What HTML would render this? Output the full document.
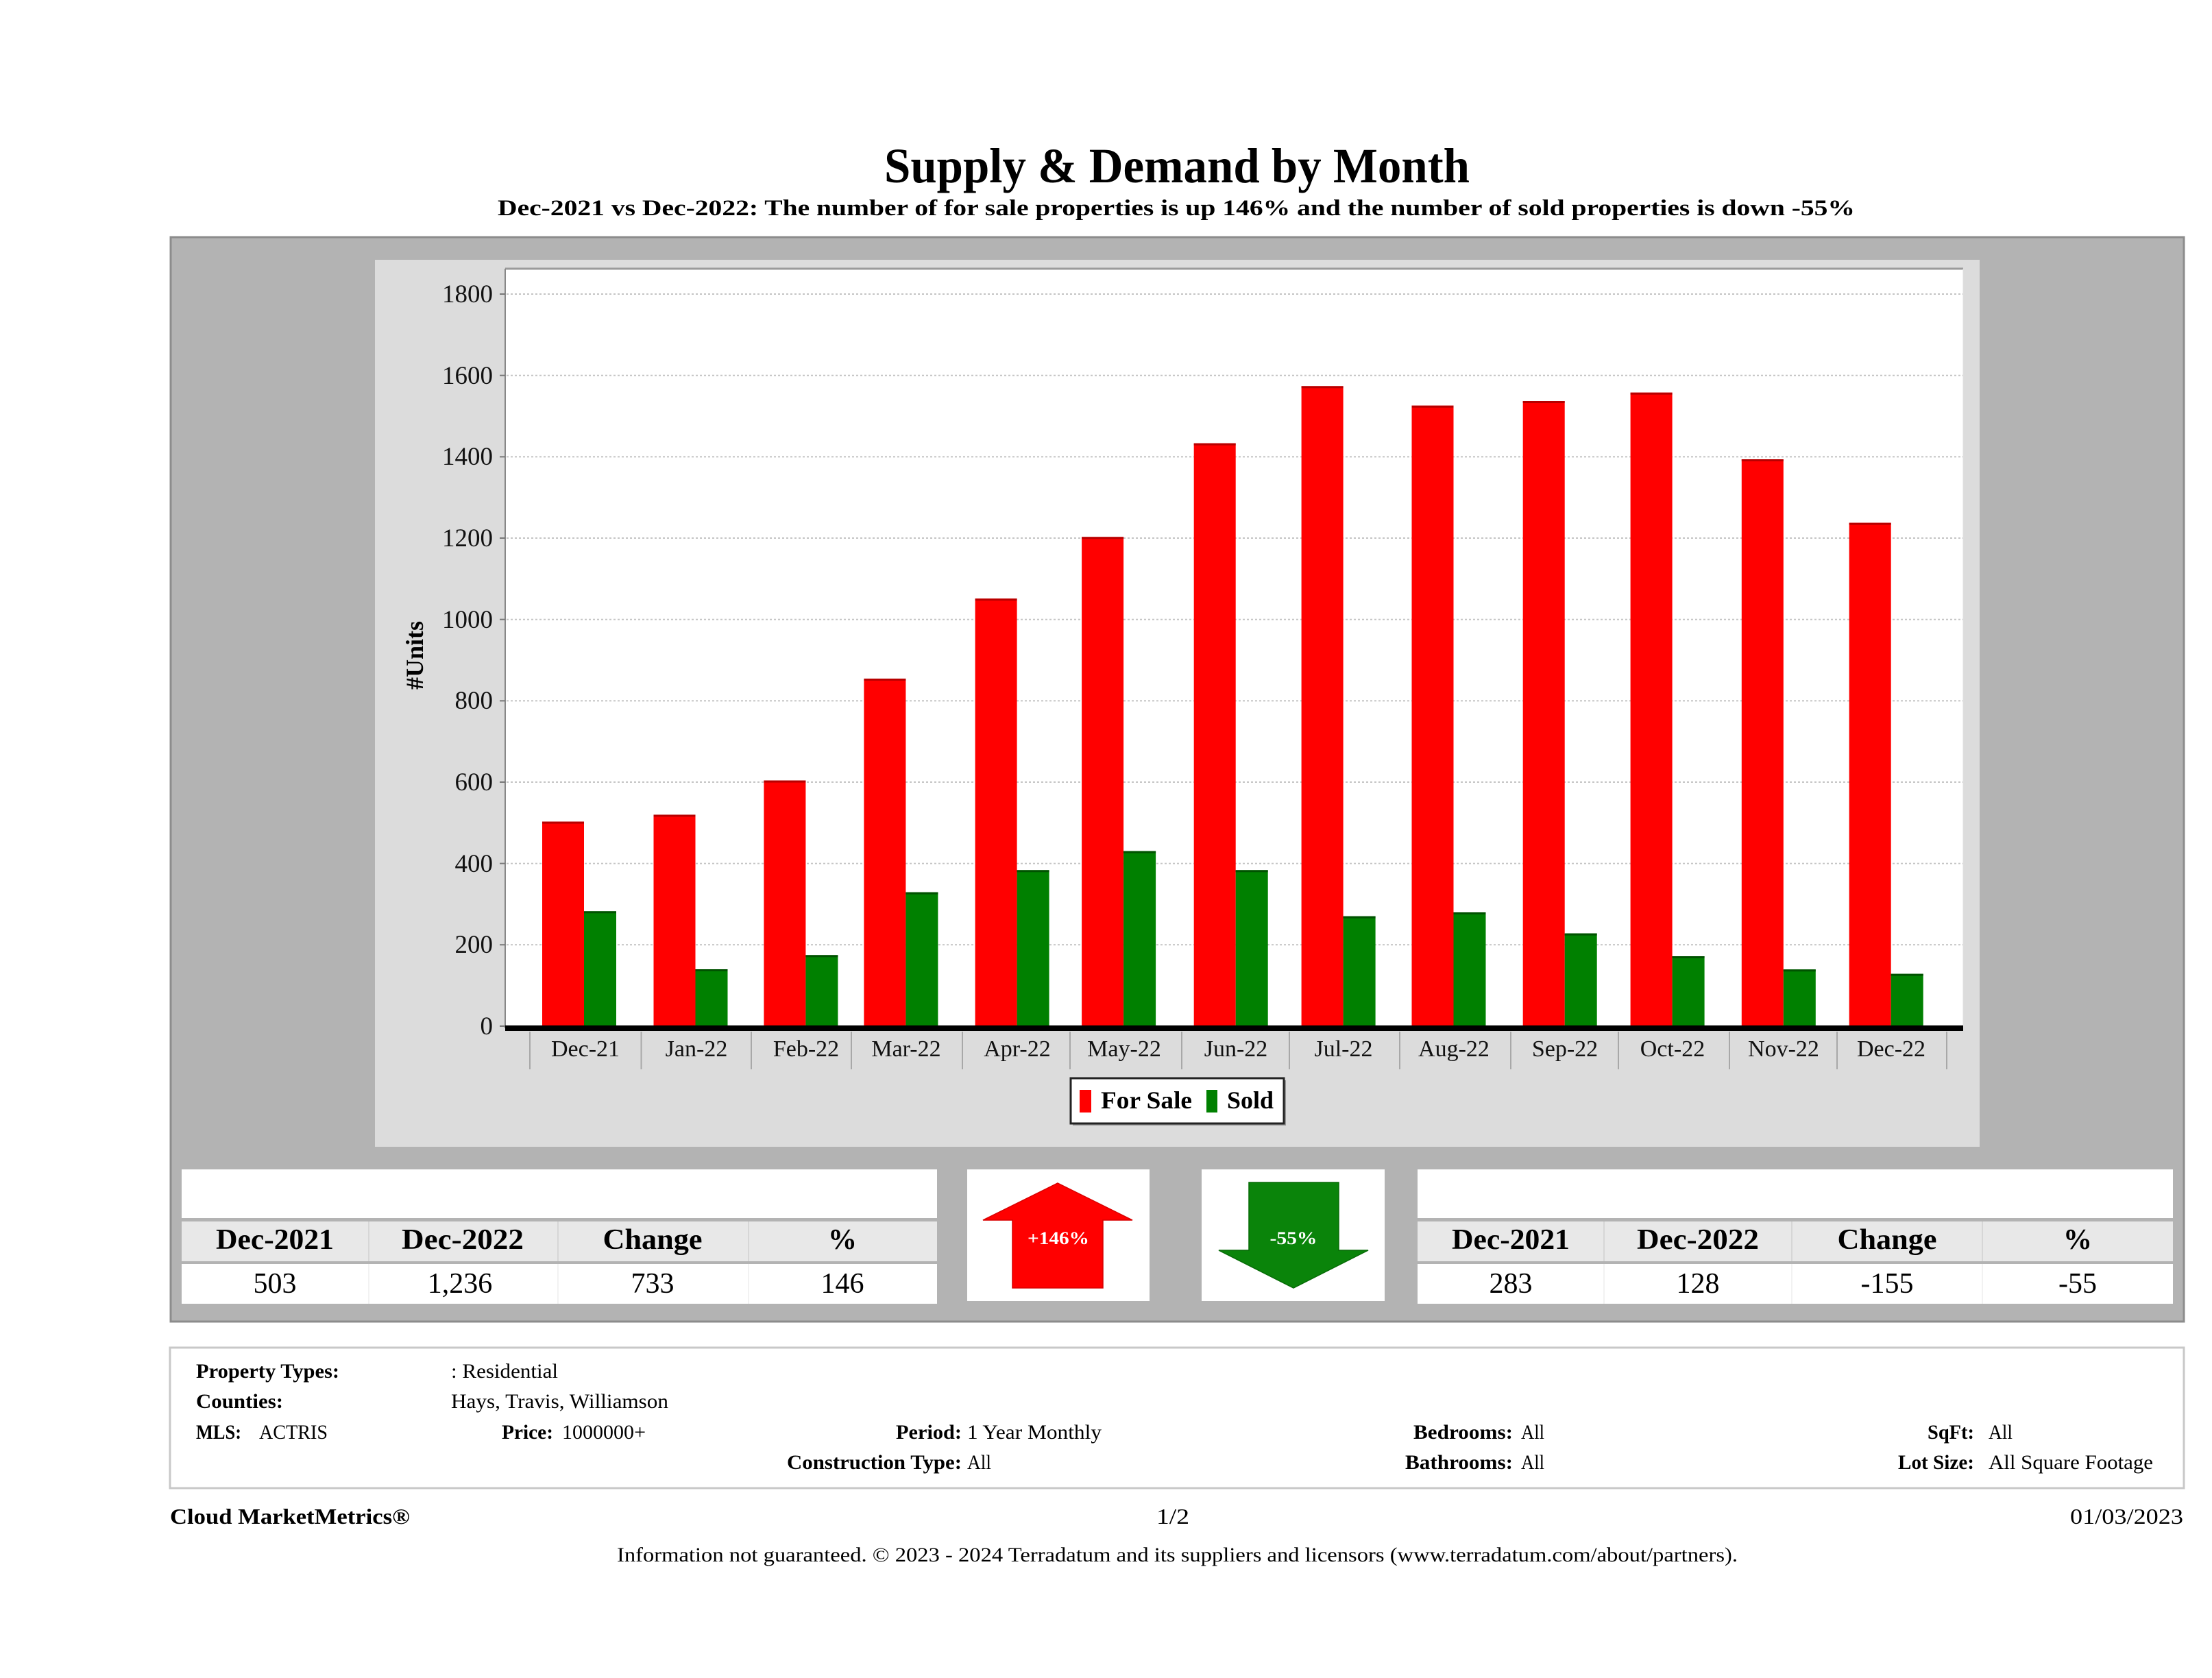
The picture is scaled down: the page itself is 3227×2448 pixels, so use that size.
<!DOCTYPE html>
<html><head><meta charset="utf-8"><style>
html,body{margin:0;padding:0;background:#fff;}
svg{display:block;}
text{font-family:"Liberation Serif",serif;}
</style></head><body>
<svg width="3227" height="2448" viewBox="0 0 3227 2448" xmlns="http://www.w3.org/2000/svg">
<rect x="0" y="0" width="3227" height="2448" fill="#fff"/>
<!-- Title -->
<text x="1290" y="266" font-size="72" font-weight="bold" textLength="854" lengthAdjust="spacingAndGlyphs">Supply &amp; Demand by Month</text>
<text x="726" y="314" font-size="33" font-weight="bold" textLength="1980" lengthAdjust="spacingAndGlyphs">Dec-2021 vs Dec-2022: The number of for sale properties is up 146% and the number of sold properties is down -55%</text>

<!-- Outer panel -->
<rect x="249" y="346" width="2937" height="1582" fill="#b3b3b3" stroke="#8c8c8c" stroke-width="3"/>
<!-- Chart panel -->
<rect x="547" y="379" width="2341" height="1294" fill="#dcdcdc"/>
<!-- Plot area -->
<rect x="737" y="393" width="2127" height="1104" fill="#fff"/>
<line x1="737" y1="392" x2="2864" y2="392" stroke="#9a9a9a" stroke-width="3"/>
<line x1="737" y1="392" x2="737" y2="1500" stroke="#888" stroke-width="2"/>
<line x1="2864" y1="392" x2="2864" y2="1500" stroke="#e0e0e0" stroke-width="1"/>

<!-- Gridlines -->
<g stroke="#c4c4c4" stroke-width="2" stroke-dasharray="3,3">
<line x1="739" y1="1378.3" x2="2864" y2="1378.3"/>
<line x1="739" y1="1259.7" x2="2864" y2="1259.7"/>
<line x1="739" y1="1141" x2="2864" y2="1141"/>
<line x1="739" y1="1022.4" x2="2864" y2="1022.4"/>
<line x1="739" y1="903.7" x2="2864" y2="903.7"/>
<line x1="739" y1="785" x2="2864" y2="785"/>
<line x1="739" y1="666.4" x2="2864" y2="666.4"/>
<line x1="739" y1="547.7" x2="2864" y2="547.7"/>
<line x1="739" y1="429" x2="2864" y2="429"/>
</g>
<!-- Y ticks -->
<g stroke="#777" stroke-width="2">
<line x1="729" y1="1497" x2="737" y2="1497"/>
<line x1="729" y1="1378.3" x2="737" y2="1378.3"/>
<line x1="729" y1="1259.7" x2="737" y2="1259.7"/>
<line x1="729" y1="1141" x2="737" y2="1141"/>
<line x1="729" y1="1022.4" x2="737" y2="1022.4"/>
<line x1="729" y1="903.7" x2="737" y2="903.7"/>
<line x1="729" y1="785" x2="737" y2="785"/>
<line x1="729" y1="666.4" x2="737" y2="666.4"/>
<line x1="729" y1="547.7" x2="737" y2="547.7"/>
<line x1="729" y1="429" x2="737" y2="429"/>
</g>
<!-- Y labels -->
<g font-size="37" text-anchor="end" fill="#111">
<text x="719" y="1509">0</text>
<text x="719" y="1390">200</text>
<text x="719" y="1272">400</text>
<text x="719" y="1153">600</text>
<text x="719" y="1034">800</text>
<text x="719" y="916">1000</text>
<text x="719" y="797">1200</text>
<text x="719" y="678">1400</text>
<text x="719" y="560">1600</text>
<text x="719" y="441">1800</text>
</g>
<text transform="translate(617,956) rotate(-90)" font-size="36" font-weight="bold" text-anchor="middle" textLength="100" lengthAdjust="spacingAndGlyphs">#Units</text>

<!-- Bars: For Sale -->
<g fill="#ff0000">
<rect x="791" y="1198.6" width="61" height="298.4"/>
<rect x="953.5" y="1188.5" width="61" height="308.5"/>
<rect x="1114.4" y="1138.6" width="61" height="358.4"/>
<rect x="1260.4" y="990" width="61" height="507"/>
<rect x="1422.6" y="873.3" width="61" height="623.7"/>
<rect x="1578.1" y="783.3" width="61" height="713.7"/>
<rect x="1741.7" y="646.7" width="61" height="850.3"/>
<rect x="1898.6" y="563.3" width="61" height="933.7"/>
<rect x="2059.5" y="591.7" width="61" height="905.3"/>
<rect x="2221.7" y="585" width="61" height="912"/>
<rect x="2378.6" y="572.7" width="61" height="924.3"/>
<rect x="2540.8" y="670" width="61" height="827"/>
<rect x="2697.7" y="762.7" width="61" height="734.3"/>
</g>
<g fill="#b80000">
<rect x="791" y="1198.6" width="61" height="3"/>
<rect x="953.5" y="1188.5" width="61" height="3"/>
<rect x="1114.4" y="1138.6" width="61" height="3"/>
<rect x="1260.4" y="990" width="61" height="3"/>
<rect x="1422.6" y="873.3" width="61" height="3"/>
<rect x="1578.1" y="783.3" width="61" height="3"/>
<rect x="1741.7" y="646.7" width="61" height="3"/>
<rect x="1898.6" y="563.3" width="61" height="3"/>
<rect x="2059.5" y="591.7" width="61" height="3"/>
<rect x="2221.7" y="585" width="61" height="3"/>
<rect x="2378.6" y="572.7" width="61" height="3"/>
<rect x="2540.8" y="670" width="61" height="3"/>
<rect x="2697.7" y="762.7" width="61" height="3"/>
</g>
<!-- Bars: Sold -->
<g fill="#008000">
<rect x="852" y="1329.3" width="47" height="167.7"/>
<rect x="1014.5" y="1414" width="47" height="83"/>
<rect x="1175.4" y="1393.3" width="47" height="103.7"/>
<rect x="1321.4" y="1301.7" width="47" height="195.3"/>
<rect x="1483.6" y="1269.3" width="47" height="227.7"/>
<rect x="1639.1" y="1241.7" width="47" height="255.3"/>
<rect x="1802.7" y="1269.3" width="47" height="227.7"/>
<rect x="1959.6" y="1336.7" width="47" height="160.3"/>
<rect x="2120.5" y="1331" width="47" height="166"/>
<rect x="2282.7" y="1361.7" width="47" height="135.3"/>
<rect x="2439.6" y="1395" width="47" height="102"/>
<rect x="2601.8" y="1414.3" width="47" height="82.7"/>
<rect x="2758.7" y="1420.7" width="47" height="76.3"/>
</g>
<g fill="#005200">
<rect x="852" y="1329.3" width="47" height="3"/>
<rect x="1014.5" y="1414" width="47" height="3"/>
<rect x="1175.4" y="1393.3" width="47" height="3"/>
<rect x="1321.4" y="1301.7" width="47" height="3"/>
<rect x="1483.6" y="1269.3" width="47" height="3"/>
<rect x="1639.1" y="1241.7" width="47" height="3"/>
<rect x="1802.7" y="1269.3" width="47" height="3"/>
<rect x="1959.6" y="1336.7" width="47" height="3"/>
<rect x="2120.5" y="1331" width="47" height="3"/>
<rect x="2282.7" y="1361.7" width="47" height="3"/>
<rect x="2439.6" y="1395" width="47" height="3"/>
<rect x="2601.8" y="1414.3" width="47" height="3"/>
<rect x="2758.7" y="1420.7" width="47" height="3"/>
</g>

<!-- zero axis -->
<rect x="737" y="1496" width="2127" height="8" fill="#000"/>
<!-- category ticks -->
<g stroke="#a8a8a8" stroke-width="2">
<line x1="773" y1="1505" x2="773" y2="1560"/>
<line x1="935.5" y1="1505" x2="935.5" y2="1560"/>
<line x1="1096" y1="1505" x2="1096" y2="1560"/>
<line x1="1242" y1="1505" x2="1242" y2="1560"/>
<line x1="1404" y1="1505" x2="1404" y2="1560"/>
<line x1="1561" y1="1505" x2="1561" y2="1560"/>
<line x1="1724" y1="1505" x2="1724" y2="1560"/>
<line x1="1881" y1="1505" x2="1881" y2="1560"/>
<line x1="2042" y1="1505" x2="2042" y2="1560"/>
<line x1="2204" y1="1505" x2="2204" y2="1560"/>
<line x1="2361" y1="1505" x2="2361" y2="1560"/>
<line x1="2523" y1="1505" x2="2523" y2="1560"/>
<line x1="2680" y1="1505" x2="2680" y2="1560"/>
<line x1="2840" y1="1505" x2="2840" y2="1560"/>
</g>
<!-- X labels -->
<g font-size="34" text-anchor="middle" fill="#111">
<text x="854" y="1541">Dec-21</text>
<text x="1016" y="1541">Jan-22</text>
<text x="1176" y="1541">Feb-22</text>
<text x="1322" y="1541">Mar-22</text>
<text x="1484" y="1541">Apr-22</text>
<text x="1640" y="1541">May-22</text>
<text x="1803" y="1541">Jun-22</text>
<text x="1960" y="1541">Jul-22</text>
<text x="2121" y="1541">Aug-22</text>
<text x="2283" y="1541">Sep-22</text>
<text x="2440" y="1541">Oct-22</text>
<text x="2602" y="1541">Nov-22</text>
<text x="2759" y="1541">Dec-22</text>
</g>
<!-- Legend -->
<rect x="1565" y="1576" width="311" height="66" fill="#999"/>
<rect x="1562" y="1573" width="311" height="66" fill="#fff" stroke="#222" stroke-width="3"/>
<rect x="1575" y="1590" width="17" height="33" fill="#ff0000"/>
<text x="1606" y="1617" font-size="36" font-weight="bold" textLength="133" lengthAdjust="spacingAndGlyphs">For Sale</text>
<rect x="1760" y="1590" width="16" height="33" fill="#008000"/>
<text x="1790" y="1617" font-size="36" font-weight="bold" textLength="68" lengthAdjust="spacingAndGlyphs">Sold</text>

<!-- Left table -->
<rect x="265" y="1706" width="1102" height="71" fill="#fff"/>
<rect x="265" y="1782" width="1102" height="58" fill="#e8e8e8"/>
<rect x="265" y="1844" width="1102" height="58" fill="#fff"/>
<g stroke="#d6d6d6" stroke-width="2">
<line x1="538" y1="1782" x2="538" y2="1840"/>
<line x1="814" y1="1782" x2="814" y2="1840"/>
<line x1="1092" y1="1782" x2="1092" y2="1840"/>
</g>
<g stroke="#f2f2f2" stroke-width="2">
<line x1="538" y1="1844" x2="538" y2="1902"/>
<line x1="814" y1="1844" x2="814" y2="1902"/>
<line x1="1092" y1="1844" x2="1092" y2="1902"/>
</g>
<g font-size="42" font-weight="bold" text-anchor="middle">
<text x="401" y="1822" textLength="172" lengthAdjust="spacingAndGlyphs">Dec-2021</text>
<text x="675" y="1822" textLength="178" lengthAdjust="spacingAndGlyphs">Dec-2022</text>
<text x="952" y="1822" textLength="145" lengthAdjust="spacingAndGlyphs">Change</text>
<text x="1229" y="1822">%</text>
</g>
<g font-size="42" text-anchor="middle">
<text x="401" y="1886">503</text>
<text x="671" y="1886">1,236</text>
<text x="952" y="1886">733</text>
<text x="1229" y="1886">146</text>
</g>

<!-- Up arrow box -->
<rect x="1411" y="1706" width="266" height="192" fill="#fff"/>
<polygon points="1543,1726 1652,1780 1609,1780 1609,1879 1477,1879 1477,1780 1434,1780" fill="#ff0000" stroke="#d80000" stroke-width="1.5"/>
<text x="1544" y="1815" font-size="26" font-weight="bold" fill="#fff" text-anchor="middle" textLength="90" lengthAdjust="spacingAndGlyphs">+146%</text>
<!-- Down arrow box -->
<rect x="1753" y="1706" width="267" height="192" fill="#fff"/>
<polygon points="1822,1725 1953,1725 1953,1824 1996,1824 1887,1879 1778,1824 1822,1824" fill="#0a840a" stroke="#066b06" stroke-width="1.5"/>
<text x="1887" y="1815" font-size="26" font-weight="bold" fill="#fff" text-anchor="middle" textLength="69" lengthAdjust="spacingAndGlyphs">-55%</text>

<!-- Right table -->
<rect x="2068" y="1706" width="1102" height="71" fill="#fff"/>
<rect x="2068" y="1782" width="1102" height="58" fill="#e8e8e8"/>
<rect x="2068" y="1844" width="1102" height="58" fill="#fff"/>
<g stroke="#d6d6d6" stroke-width="2">
<line x1="2340" y1="1782" x2="2340" y2="1840"/>
<line x1="2614" y1="1782" x2="2614" y2="1840"/>
<line x1="2892" y1="1782" x2="2892" y2="1840"/>
</g>
<g stroke="#f2f2f2" stroke-width="2">
<line x1="2340" y1="1844" x2="2340" y2="1902"/>
<line x1="2614" y1="1844" x2="2614" y2="1902"/>
<line x1="2892" y1="1844" x2="2892" y2="1902"/>
</g>
<g font-size="42" font-weight="bold" text-anchor="middle">
<text x="2204" y="1822" textLength="172" lengthAdjust="spacingAndGlyphs">Dec-2021</text>
<text x="2477" y="1822" textLength="178" lengthAdjust="spacingAndGlyphs">Dec-2022</text>
<text x="2753" y="1822" textLength="145" lengthAdjust="spacingAndGlyphs">Change</text>
<text x="3031" y="1822">%</text>
</g>
<g font-size="42" text-anchor="middle">
<text x="2204" y="1886">283</text>
<text x="2477" y="1886">128</text>
<text x="2753" y="1886">-155</text>
<text x="3031" y="1886">-55</text>
</g>

<!-- Info box -->
<rect x="248" y="1966" width="2938" height="205" fill="#fff" stroke="#c8c8c8" stroke-width="3"/>
<g font-size="30">
<text x="286" y="2010" font-weight="bold" textLength="209" lengthAdjust="spacingAndGlyphs">Property Types:</text>
<text x="658" y="2010" textLength="156" lengthAdjust="spacingAndGlyphs">: Residential</text>
<text x="286" y="2054" font-weight="bold" textLength="127" lengthAdjust="spacingAndGlyphs">Counties:</text>
<text x="658" y="2054" textLength="317" lengthAdjust="spacingAndGlyphs">Hays, Travis, Williamson</text>
<text x="286" y="2099" font-weight="bold" textLength="66" lengthAdjust="spacingAndGlyphs">MLS:</text>
<text x="378" y="2099" textLength="100" lengthAdjust="spacingAndGlyphs">ACTRIS</text>
<text x="732" y="2099" font-weight="bold" textLength="75" lengthAdjust="spacingAndGlyphs">Price:</text>
<text x="820" y="2099" textLength="122" lengthAdjust="spacingAndGlyphs">1000000+</text>
<text x="1307" y="2099" font-weight="bold" textLength="96" lengthAdjust="spacingAndGlyphs">Period:</text>
<text x="1411" y="2099" textLength="196" lengthAdjust="spacingAndGlyphs">1 Year Monthly</text>
<text x="1148" y="2143" font-weight="bold" textLength="255" lengthAdjust="spacingAndGlyphs">Construction Type:</text>
<text x="1411" y="2143" textLength="35" lengthAdjust="spacingAndGlyphs">All</text>
<text x="2062" y="2099" font-weight="bold" textLength="145" lengthAdjust="spacingAndGlyphs">Bedrooms:</text>
<text x="2219" y="2099" textLength="34" lengthAdjust="spacingAndGlyphs">All</text>
<text x="2050" y="2143" font-weight="bold" textLength="157" lengthAdjust="spacingAndGlyphs">Bathrooms:</text>
<text x="2219" y="2143" textLength="34" lengthAdjust="spacingAndGlyphs">All</text>
<text x="2812" y="2099" font-weight="bold" textLength="68" lengthAdjust="spacingAndGlyphs">SqFt:</text>
<text x="2901" y="2099" textLength="35" lengthAdjust="spacingAndGlyphs">All</text>
<text x="2769" y="2143" font-weight="bold" textLength="111" lengthAdjust="spacingAndGlyphs">Lot Size:</text>
<text x="2901" y="2143" textLength="240" lengthAdjust="spacingAndGlyphs">All Square Footage</text>
</g>

<!-- Footer -->
<text x="248" y="2223" font-size="32" font-weight="bold" textLength="350" lengthAdjust="spacingAndGlyphs">Cloud MarketMetrics®</text>
<text x="1687" y="2223" font-size="32" textLength="48" lengthAdjust="spacingAndGlyphs">1/2</text>
<text x="3020" y="2223" font-size="32" textLength="165" lengthAdjust="spacingAndGlyphs">01/03/2023</text>
<text x="900" y="2278" font-size="30" textLength="1635" lengthAdjust="spacingAndGlyphs">Information not guaranteed. © 2023 - 2024 Terradatum and its suppliers and licensors (www.terradatum.com/about/partners).</text>
</svg>
</body></html>
